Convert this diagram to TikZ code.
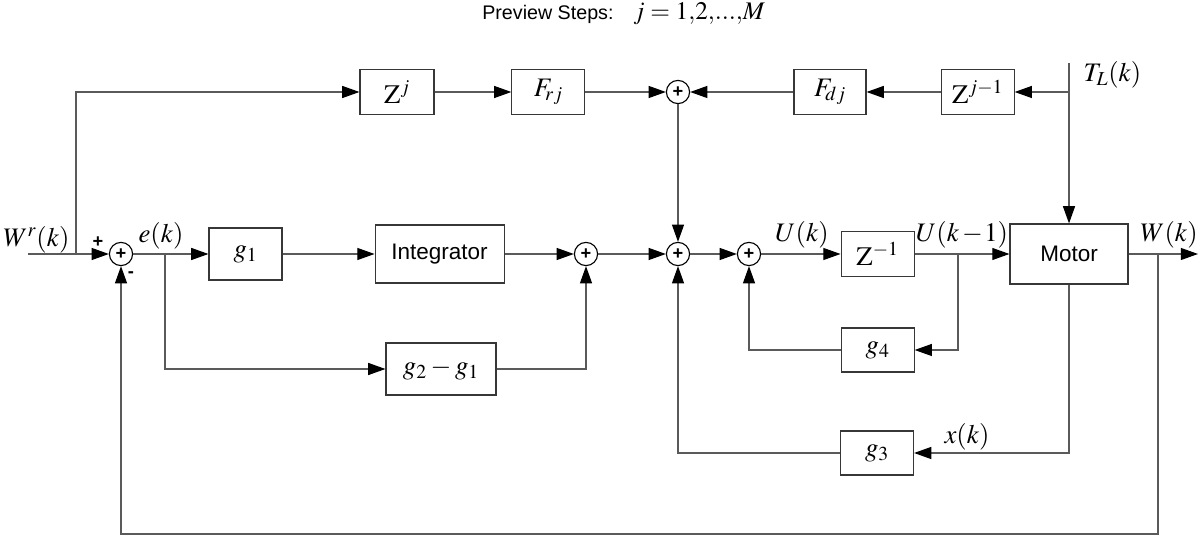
\documentclass[tikz,border=0pt]{standalone}
\usepackage{mathptmx}
\usepackage[no-math]{fontspec}
\setsansfont{Liberation Sans}
\usetikzlibrary{arrows.meta,positioning,calc}
\definecolor{linegray}{RGB}{90,90,90}
\definecolor{boxgray}{RGB}{55,55,55}
\newcommand{\mathsize}{\fontsize{19}{22}\selectfont}
\newcommand{\textsize}{\sffamily\fontsize{16}{19}\selectfont}

\begin{document}
\begin{tikzpicture}[
    block/.style={rectangle, draw=boxgray, line width=0.8pt, minimum width=1.825cm, minimum height=1.125cm, inner sep=0pt, font=\mathsize},
    sumnode/.style={circle, draw=black, line width=0.8pt, minimum size=0.58cm, inner sep=0pt, font=\sffamily\bfseries\fontsize{13}{13}\selectfont},
    arrow/.style={-{Triangle[length=4.3mm, width=3mm, color=black]}, line width=0.8pt, draw=linegray},
    sig/.style={font=\mathsize, inner sep=1pt},
    sign/.style={font=\sffamily\bfseries\fontsize{13}{13}\selectfont, inner sep=0pt}
  ]
    \useasboundingbox (0,-7.025) rectangle (30,6.35);

    % Main path
    \node[sumnode] (s1) at (3.025,0) {+};
    \node[block, minimum height=1.3cm] (g1) at (6.1375,0) {$g_1$};
    \node[block, font=\textsize, minimum width=3.225cm, minimum height=1.45cm] (integ) at (10.99,0) {Integrator};
    \node[sumnode] (s2) at (14.65,0) {+};
    \node[block, minimum width=2.75cm, minimum height=1.3cm] (g21) at (11.025,-2.875) {$g_2-g_1$};
    \node[sumnode] (s3) at (16.95,0) {+};
    \node[sumnode] (s4) at (18.725,0) {+};
    \node[block] (zinv) at (21.94,0) {$\mathrm{Z}^{-1}$};
    \node[block, minimum height=1.1cm] (g4) at (21.94,-2.4) {$g_4$};
    \node[block, font=\textsize, minimum width=2.95cm, minimum height=1.5cm] (motor) at (26.725,0) {Motor};
    \node[block, minimum height=1.1cm] (g3) at (21.925,-4.975) {$g_3$};

    % Preview path
    \node[block, minimum width=1.85cm] (zj) at (9.925,4.05) {$\mathrm{Z}^{j}$};
    \node[block] (frj) at (13.71,4.05) {$F_{\!rj}$};
    \node[sumnode] (s5) at (16.95,4.05) {+};
    \node[block, minimum width=1.8cm] (fdj) at (20.75,4.05) {$F_{\!dj}$};
    \node[block] (zj1) at (24.44,4.05) {$\mathrm{Z}^{j-1}$};

    % Branch points and free ends
    \coordinate (in) at (0.7,0);
    \coordinate (wr) at (1.9,0);
    \coordinate (ek) at (4.125,0);
    \coordinate (uk1) at (23.95,0);
    \coordinate (wk) at (28.95,0);
    \coordinate (out) at (29.95,0);
    \coordinate (tl) at (26.725,4.775);
    \coordinate (tlj) at (26.725,4.05);

    % Connections
    \draw[arrow] (in) -- (s1);
    \draw[arrow] (wr) |- (zj);
    \draw[arrow] (s1) -- (g1);
    \draw[arrow] (ek) |- (g21);
    \draw[arrow] (g1) -- (integ);
    \draw[arrow] (integ) -- (s2);
    \draw[arrow] (g21) -| (s2);
    \draw[arrow] (s2) -- (s3);
    \draw[arrow] (s3) -- (s4);
    \draw[arrow] (s4) -- (zinv);
    \draw[arrow] (zinv) -- (motor);
    \draw[arrow] (uk1) |- (g4);
    \draw[arrow] (g4) -| (s4);
    \draw[arrow] (motor) -- (out);
    \draw[arrow] (motor.south) |- (g3);
    \draw[arrow] (g3) -| (s3);
    \draw[arrow] (wk) -- ++(0,-7) -| (s1);

    \draw[arrow] (tl) -- (motor);
    \draw[arrow] (tlj) -- (zj1);
    \draw[arrow] (zj1) -- (fdj);
    \draw[arrow] (fdj) -- (s5);
    \draw[arrow] (zj) -- (frj);
    \draw[arrow] (frj) -- (s5);
    \draw[arrow] (s5) -- (s3);

    % Signal labels
    \node[sig] (wrlabel) at (0.91,0.35) {$W^r(k)$};
    \node[sign] (plus) at (2.45,0.3) {+};
    \node[sign] (minus) at (3.275,-0.525) {-};
    \node[sig] (eklabel) at (4.025,0.45) {$e(k)$};
    \node[sig] (uklabel) at (20.05,0.47) {$U(k)$};
    \node[sig] (uk1label) at (24.05,0.47) {$U(k\mskip2mu{-}\mskip1mu1)$};
    \node[sig] (wklabel) at (29.225,0.475) {$W(k)$};
    \node[sig] (xklabel) at (24.175,-4.575) {$x(k)$};
    \node[sig, anchor=west] (tllabel) at (27.05,4.475) {$T_L(k)$};
    \node[anchor=west, inner sep=0pt] (preview) at (12.05,6.0) {\sffamily\fontsize{14}{17}\selectfont Preview Steps:\quad{\fontsize{18}{21}\selectfont$j=1{,}2{,}...{,}M$}};
  \end{tikzpicture}
\end{document}
